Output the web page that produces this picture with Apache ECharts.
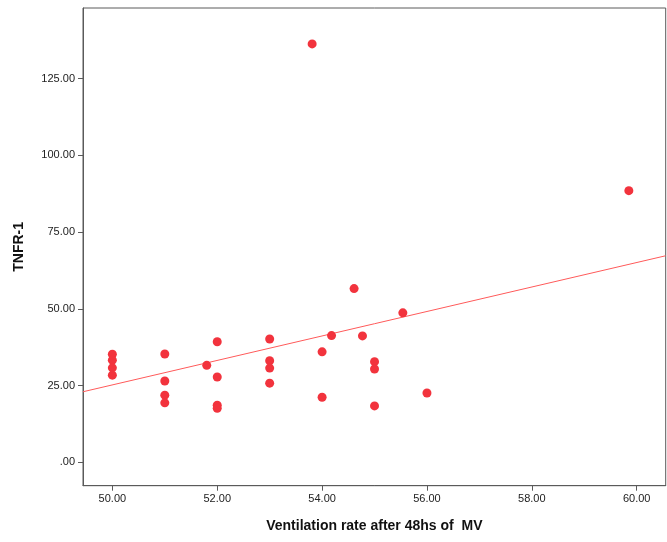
<!DOCTYPE html>
<html><head><meta charset="utf-8">
<script src="https://cdn.jsdelivr.net/npm/echarts@6/dist/echarts.min.js"></script>
<style>html,body{margin:0;padding:0;background:#fff}#c{width:667px;height:542px}</style>
</head><body><div id="c"></div>
<script>
const ventRate = [50,50,50,50, 51,51,51,51, 51.8, 52,52,52,52, 53,53,53,53, 53.81, 54,54, 54.18, 54.61, 54.77, 55,55,55, 55.54, 56, 59.85];
const tnfr1    = [35.2,33.3,30.8,28.4, 35.3,26.5,21.9,19.4, 31.6, 39.3,27.8,18.6,17.6, 40.2,33.1,30.7,25.8, 136.3, 36.0,21.2, 41.3, 56.6, 41.2, 32.8,30.4,18.4, 48.7, 22.6, 88.5];
const xTicks = [50,52,54,56,58,60];
const yTicks = [0,25,50,75,100,125];
const fitX = [49.44, 60.553];
const fitY = [23.0, 67.3];

const chart = echarts.init(document.getElementById('c'));
const fmt = v => { const s = Number(v).toFixed(2); return s.startsWith('0') ? s.slice(1) : s; };
chart.setOption({
  animation:false,
  grid:{left:83,top:8,right:1.3,bottom:56.3,show:true,borderColor:'#5a5a5a',borderWidth:1,containLabel:false},
  xAxis:{type:'value',min:49.44,max:60.553,
    name:'Ventilation rate after 48hs of  MV',nameLocation:'middle',nameGap:33,
    nameTextStyle:{fontFamily:'Liberation Sans',fontWeight:'bold',fontSize:14,color:'#111'},
    axisLine:{show:true,onZero:false,lineStyle:{color:'#5a5a5a',width:1}},
    axisTick:{show:true,length:5,lineStyle:{color:'#5a5a5a'},customValues:xTicks},
    axisLabel:{customValues:xTicks,formatter:fmt,fontFamily:'Liberation Sans',fontSize:11,color:'#222',margin:8},
    splitLine:{show:false}},
  yAxis:{type:'value',min:-7.6,max:148.0,
    name:'TNFR-1',nameLocation:'middle',nameGap:57,nameRotate:90,
    nameTextStyle:{fontFamily:'Liberation Sans',fontWeight:'bold',fontSize:14,color:'#111'},
    axisLine:{show:true,onZero:false,lineStyle:{color:'#5a5a5a',width:1}},
    axisTick:{show:true,length:5,lineStyle:{color:'#5a5a5a'},customValues:yTicks},
    axisLabel:{customValues:yTicks,formatter:fmt,fontFamily:'Liberation Sans',fontSize:11,color:'#222',margin:8},
    splitLine:{show:false}},
  series:[
    {type:'line',data:fitX.map((x,i)=>[x,fitY[i]]),symbol:'none',lineStyle:{color:'#ff5a5a',width:1},z:1},
    {type:'scatter',data:ventRate.map((x,i)=>[x,tnfr1[i]]),symbolSize:9,itemStyle:{color:'#f2333d',opacity:1},z:2}
  ]
});
</script></body></html>
